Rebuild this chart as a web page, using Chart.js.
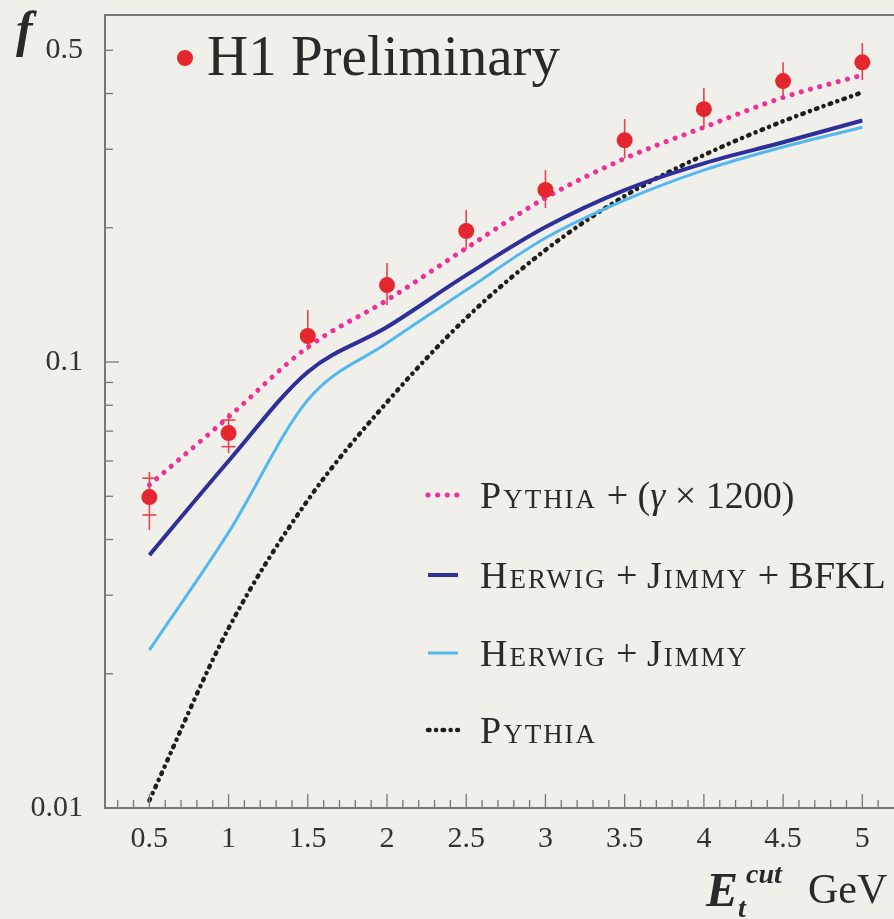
<!DOCTYPE html>
<html>
<head>
<meta charset="utf-8">
<script src="https://cdn.jsdelivr.net/npm/chart.js@4.4.1/dist/chart.umd.min.js"></script>
<style>
html, body { margin: 0; padding: 0; background: #f1efea; overflow: hidden; }
#wrap { position: relative; width: 894px; height: 919px; }
canvas { position: absolute; left: 0; top: 0; }
.t { position: absolute; font-family: 'Liberation Serif', 'Times New Roman', serif; color: #2a2a2a; white-space: nowrap; line-height: 1; }
.sc { font-variant: small-caps; letter-spacing: 2px; }
.bi { font-weight: bold; font-style: italic; }
.leg { font-size: 38px; left: 480px; }
</style>
</head>
<body>
<div id="wrap">
  <canvas id="chart" width="894" height="919"></canvas>
  <div class="t bi" style="left:16px;top:4px;font-size:50px">f</div>
  <div class="t" style="left:207px;top:27px;font-size:57px">H1 Preliminary</div>
  <div class="t leg" style="top:476px"><span class="sc">Pythia</span> + (<i>γ</i> × 1200)</div>
  <div class="t leg" style="top:556px"><span class="sc">Herwig</span> + <span class="sc">Jimmy</span> + BFKL</div>
  <div class="t leg" style="top:634px"><span class="sc">Herwig</span> + <span class="sc">Jimmy</span></div>
  <div class="t leg" style="top:711px"><span class="sc">Pythia</span></div>
  <div class="t bi" style="left:706px;top:866px;font-size:48px">E</div>
  <div class="t bi" style="left:746px;top:860px;font-size:28px">cut</div>
  <div class="t bi" style="left:738px;top:894px;font-size:28px">t</div>
  <div class="t" style="left:808px;top:868px;font-size:42px">GeV</div>
</div>
<script>
// valeurs
const xCut = [0.5, 1, 1.5, 2, 2.5, 3, 3.5, 4, 4.5, 5];
const h1F = [0.0498, 0.0693, 0.1144, 0.1488, 0.1967, 0.2432, 0.3143, 0.369, 0.4265, 0.470];
const h1Lo = [0.0420, 0.0625, 0.1064, 0.1342, 0.179, 0.2214, 0.286, 0.336, 0.388, 0.4286];
const h1Hi = [0.0567, 0.0769, 0.1308, 0.1667, 0.2193, 0.2694, 0.3505, 0.4116, 0.4703, 0.5194];
const h1StatLo = [0.0454, 0.0646, null, null, null, null, null, null, null, null];
const h1StatHi = [0.0549, 0.0741, null, null, null, null, null, null, null, null];

const pythiaGamma = [0.0530, 0.0753, 0.108, 0.1377, 0.180, 0.2334, 0.286, 0.336, 0.392, 0.440];
const herwigBfkl = [0.0369, 0.060, 0.095, 0.1198, 0.1566, 0.2007, 0.243, 0.279, 0.311, 0.348];
const herwigJimmy = [0.0226, 0.0415, 0.0822, 0.1103, 0.145, 0.1897, 0.2307, 0.2694, 0.3036, 0.336];
const pythia = [0.0104, 0.0253, 0.049, 0.0813, 0.1255, 0.1783, 0.2356, 0.2911, 0.3467, 0.4027];

const xTicks = [0.5, 1, 1.5, 2, 2.5, 3, 3.5, 4, 4.5, 5];
const yTicks = [0.01, 0.1, 0.5];

const colors = {
    data: '#e4262f',
    err: '#e8434c',
    magenta: '#ef2f98',
    blue: '#2e2f98',
    lightBlue: '#52b8ee',
    black: '#1e1e1e',
    axis: '#777777'
};

const pts = arr => xCut.map((x, i) => ({ x: x, y: arr[i] }));

const curves = [
    { label: 'Pythia + (γ × 1200)', data: pythiaGamma, color: colors.magenta, width: 5, dash: [0.1, 9.5], cap: 'round' },
    { label: 'Herwig + Jimmy + BFKL', data: herwigBfkl, color: colors.blue, width: 4, dash: [], cap: 'butt' },
    { label: 'Herwig + Jimmy', data: herwigJimmy, color: colors.lightBlue, width: 3, dash: [], cap: 'butt' },
    { label: 'Pythia', data: pythia, color: colors.black, width: 4.5, dash: [1.5, 6.5, 0.1, 6.5], cap: 'round' }
];
const legendRows = [495, 575, 653, 730];

// axes, petites graduations vers l'intérieur, barres d'erreur
const framePlugin = {
    id: 'frame',
    beforeDatasetsDraw(chart) {
        const ctx = chart.ctx;
        const xs = chart.scales.x, ys = chart.scales.y;
        ctx.save();
        ctx.strokeStyle = colors.err;
        ctx.lineWidth = 1.6;
        xCut.forEach((x, i) => {
            const px = xs.getPixelForValue(x);
            ctx.beginPath();
            ctx.moveTo(px, ys.getPixelForValue(h1Lo[i]));
            ctx.lineTo(px, ys.getPixelForValue(h1Hi[i]));
            ctx.stroke();
            [h1StatLo[i], h1StatHi[i]].forEach(v => {
                if (v == null) return;
                const py = ys.getPixelForValue(v);
                ctx.beginPath();
                ctx.moveTo(px - 7, py);
                ctx.lineTo(px + 7, py);
                ctx.stroke();
            });
        });
        ctx.restore();
    },
    afterDraw(chart) {
        const ctx = chart.ctx;
        const a = chart.chartArea;
        const xs = chart.scales.x, ys = chart.scales.y;
        ctx.save();
        ctx.strokeStyle = colors.axis;
        ctx.lineWidth = 2;
        ctx.beginPath();
        ctx.moveTo(a.right, a.top);
        ctx.lineTo(a.left, a.top);
        ctx.lineTo(a.left, a.bottom);
        ctx.lineTo(a.right, a.bottom);
        ctx.stroke();

        ctx.lineWidth = 1.3;
        for (let k = 3; k <= 51; k++) {
            const px = xs.getPixelForValue(k / 10);
            const len = k % 5 === 0 ? 14 : 8;
            ctx.beginPath();
            ctx.moveTo(px, a.bottom);
            ctx.lineTo(px, a.bottom - len);
            ctx.stroke();
        }
        [0.01, 0.1, 1].forEach(dec => {
            for (let m = 1; m <= 9; m++) {
                const v = dec * m;
                if (v < 0.01 || v > 0.6) continue;
                const py = ys.getPixelForValue(v);
                const len = m === 1 ? 14 : 8;
                ctx.beginPath();
                ctx.moveTo(a.left, py);
                ctx.lineTo(a.left + len, py);
                ctx.stroke();
            }
        });

        // légende
        curves.forEach((c, i) => {
            ctx.strokeStyle = c.color;
            ctx.lineWidth = c.width;
            ctx.lineCap = c.cap;
            ctx.setLineDash(c.dash);
            ctx.beginPath();
            ctx.moveTo(428, legendRows[i]);
            ctx.lineTo(458, legendRows[i]);
            ctx.stroke();
        });
        ctx.setLineDash([]);
        ctx.fillStyle = colors.data;
        ctx.beginPath();
        ctx.arc(185, 58, 8, 0, Math.PI * 2);
        ctx.fill();
        ctx.restore();
    }
};

const datasets = [{
    type: 'scatter',
    label: 'H1 Preliminary',
    data: pts(h1F),
    backgroundColor: colors.data,
    borderWidth: 0,
    pointRadius: 8
}];
curves.forEach(c => {
    datasets.push({
        type: 'line',
        label: c.label,
        data: pts(c.data),
        borderColor: c.color,
        borderWidth: c.width,
        borderDash: c.dash,
        borderCapStyle: c.cap,
        pointRadius: 0,
        fill: false,
        cubicInterpolationMode: 'monotone'
    });
});

const tickFont = { family: "'Liberation Serif', 'Times New Roman', serif", size: 30 };

new Chart(document.getElementById('chart'), {
    data: { datasets: datasets },
    options: {
        responsive: false,
        animation: false,
        layout: { autoPadding: false, padding: { top: 15, right: 0, left: 0, bottom: 0 } },
        plugins: { legend: { display: false }, tooltip: { enabled: false } },
        scales: {
            x: {
                type: 'linear',
                min: 0.22,
                max: 5.2,
                grid: { display: false, drawTicks: false },
                border: { display: false },
                afterBuildTicks: s => { s.ticks = xTicks.map(v => ({ value: v })); },
                afterFit: s => { s.height = 111; s.paddingLeft = 0; s.paddingRight = 0; },
                ticks: {
                    autoSkip: false,
                    maxRotation: 0,
                    padding: 13,
                    color: '#333',
                    font: tickFont,
                    callback: v => String(v)
                }
            },
            y: {
                type: 'logarithmic',
                min: 0.01,
                max: 0.6,
                grid: { display: false, drawTicks: false },
                border: { display: false },
                afterBuildTicks: s => { s.ticks = yTicks.map(v => ({ value: v })); },
                afterFit: s => { s.width = 105; s.paddingTop = 0; s.paddingBottom = 0; },
                ticks: {
                    autoSkip: false,
                    padding: 22,
                    color: '#333',
                    font: tickFont,
                    callback: v => String(v)
                }
            }
        }
    },
    plugins: [framePlugin]
});
</script>
</body>
</html>
